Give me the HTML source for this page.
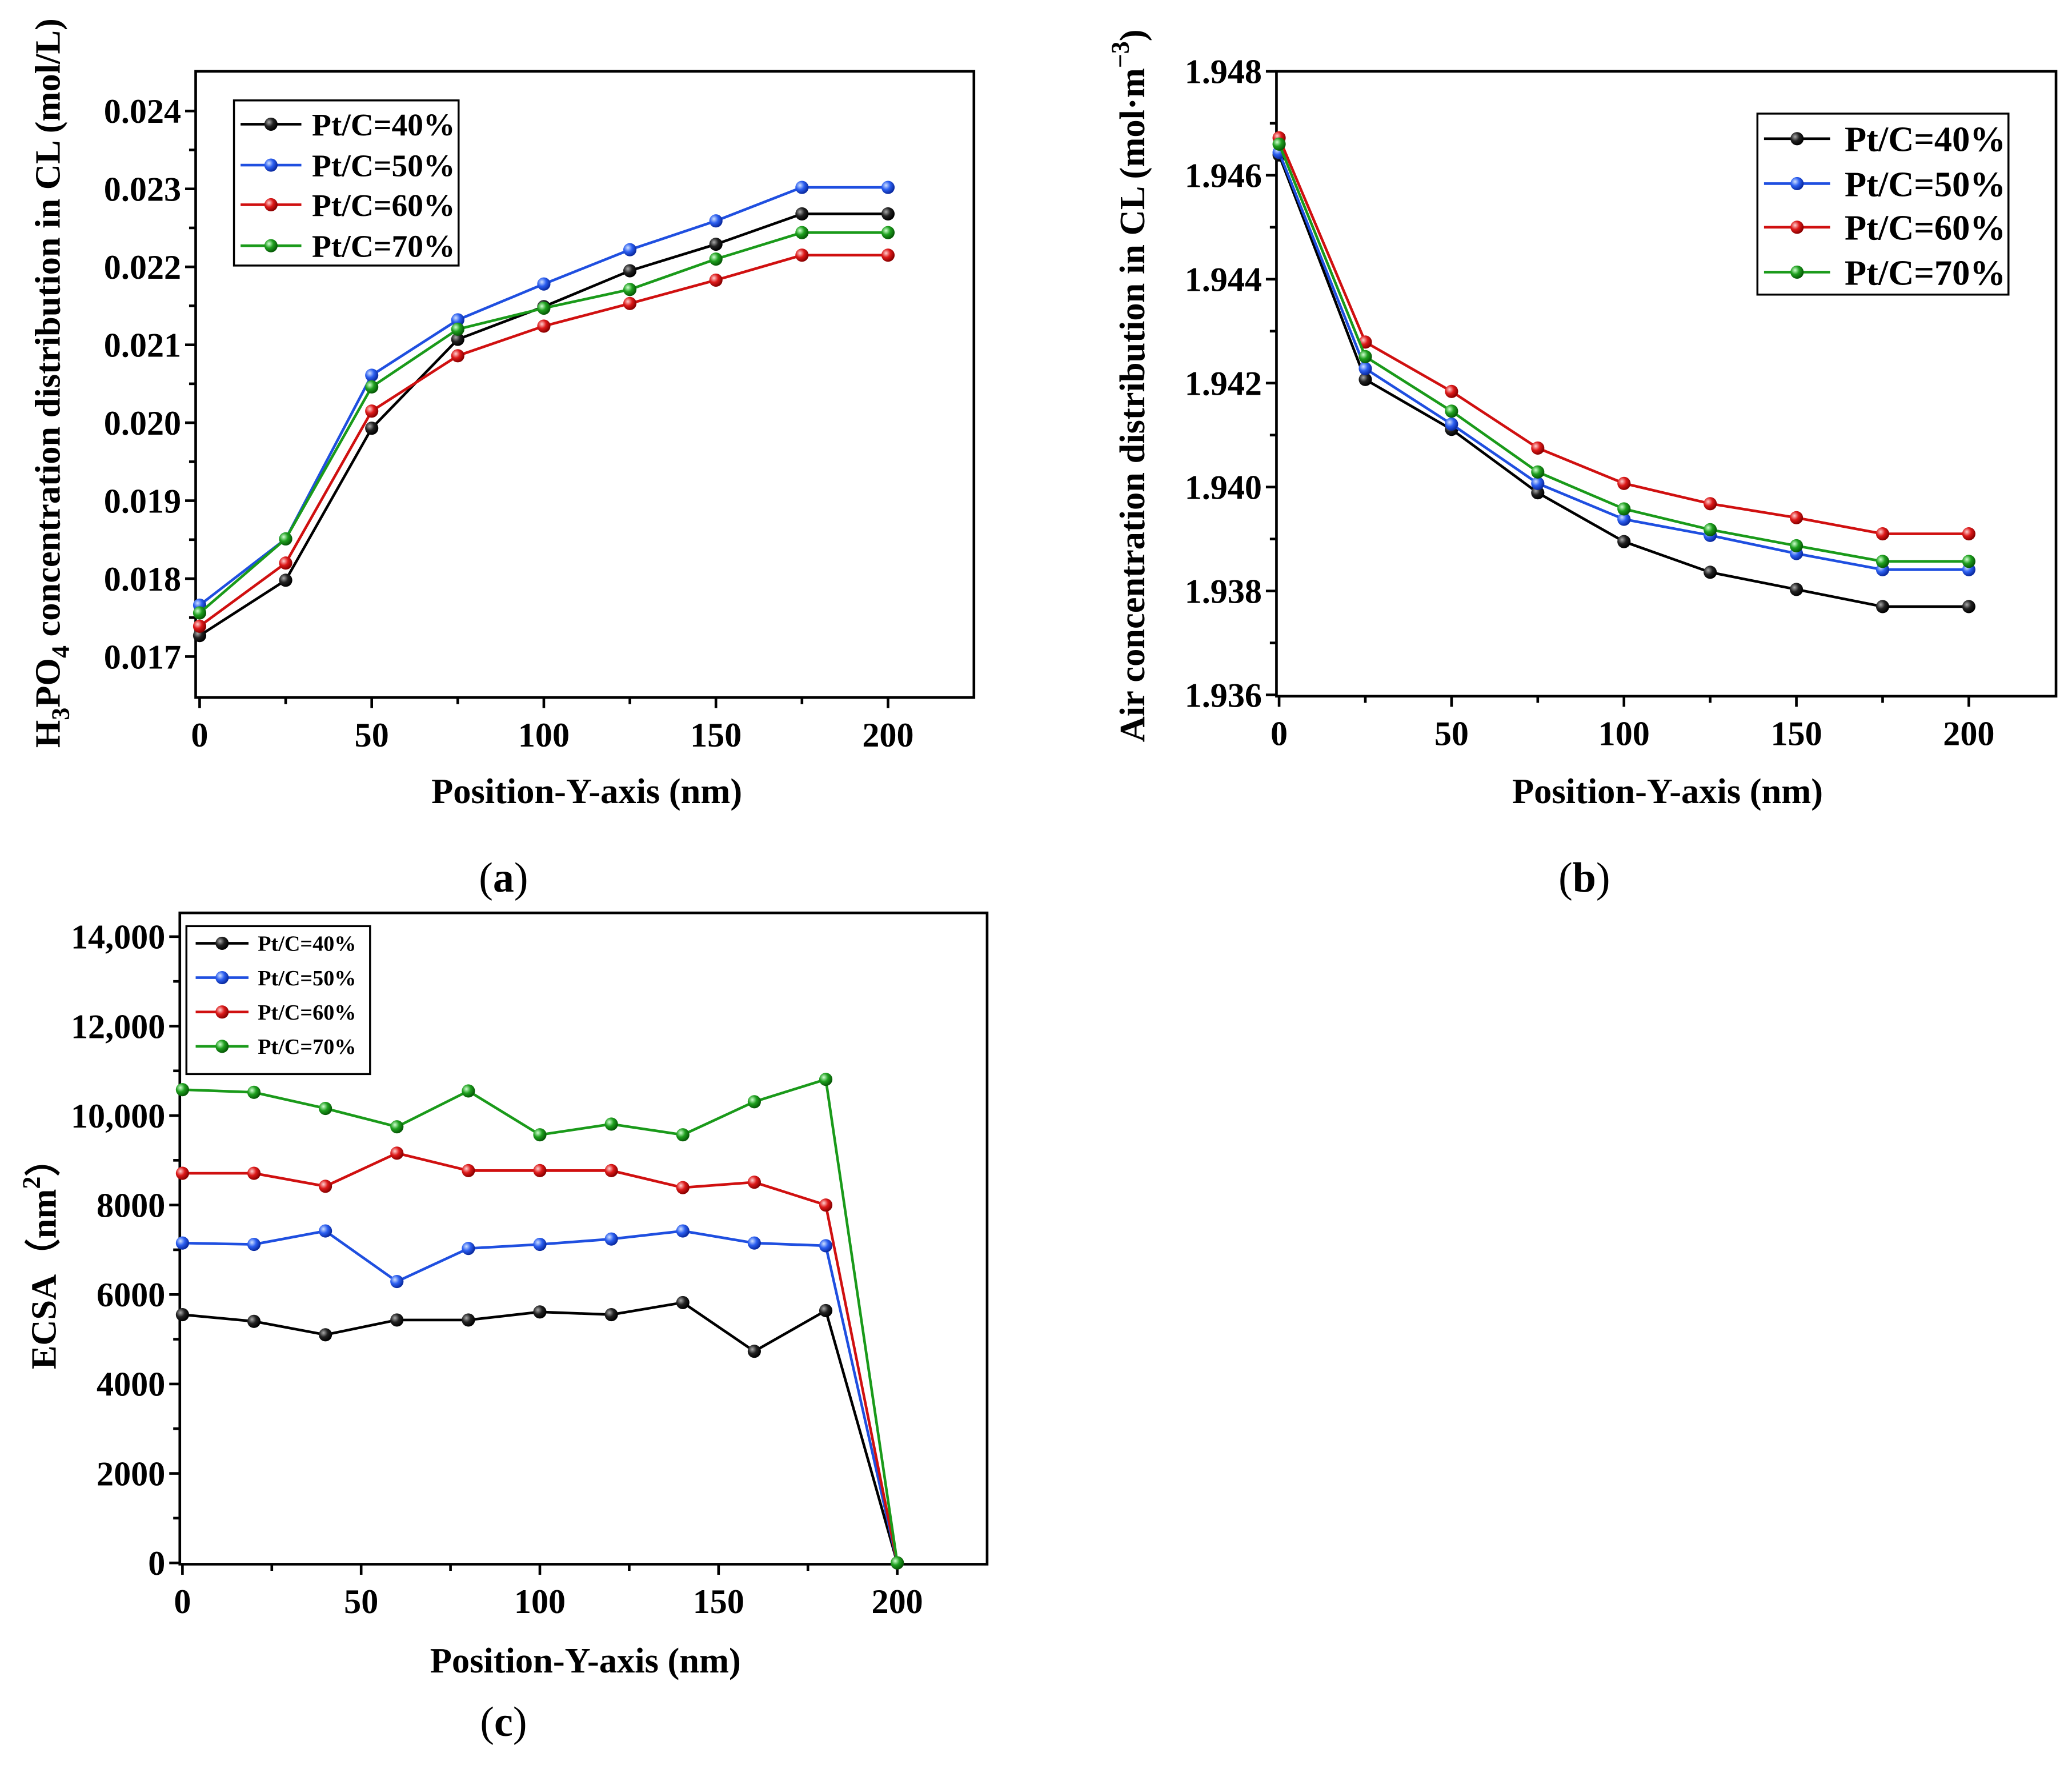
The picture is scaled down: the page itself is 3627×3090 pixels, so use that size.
<!DOCTYPE html>
<html><head><meta charset="utf-8">
<style>
html,body{margin:0;padding:0;background:#fff;}
svg{display:block;font-family:"Liberation Serif",serif;}
</style></head>
<body>
<svg id="fig" width="3627" height="3090" viewBox="0 0 1568 1336" xmlns="http://www.w3.org/2000/svg">
<defs>
<radialGradient id="g-black" cx="35%" cy="35%" r="65%"><stop offset="0" stop-color="#aaa"/><stop offset="0.5" stop-color="#222"/><stop offset="1" stop-color="#000"/></radialGradient>
<radialGradient id="g-blue" cx="35%" cy="35%" r="65%"><stop offset="0" stop-color="#cfe0ff"/><stop offset="0.5" stop-color="#2c5ff0"/><stop offset="1" stop-color="#0a2aa0"/></radialGradient>
<radialGradient id="g-red" cx="35%" cy="35%" r="65%"><stop offset="0" stop-color="#ffd0d0"/><stop offset="0.5" stop-color="#dd1a1a"/><stop offset="1" stop-color="#8a0000"/></radialGradient>
<radialGradient id="g-green" cx="35%" cy="35%" r="65%"><stop offset="0" stop-color="#d0ffd0"/><stop offset="0.5" stop-color="#1fa01f"/><stop offset="1" stop-color="#065a06"/></radialGradient>
</defs>
</svg>
<script>
const seriesNames = ["Pt/C=40%","Pt/C=50%","Pt/C=60%","Pt/C=70%"];
const seriesColors = ["#000000","#1f4fe0","#d01010","#1a9a1a"];
const seriesGrad = ["g-black","g-blue","g-red","g-green"];

const aX = [0,25,50,75,100,125,150,175,200];
const a40 = [0.01727,0.01798,0.01993,0.02107,0.02149,0.02195,0.02229,0.02268,0.02268];
const a50 = [0.01766,0.01851,0.02061,0.02132,0.02178,0.02222,0.02259,0.02302,0.02302];
const a60 = [0.01739,0.01820,0.02015,0.02086,0.02124,0.02153,0.02183,0.02215,0.02215];
const a70 = [0.01756,0.01851,0.02046,0.02120,0.02147,0.02171,0.02210,0.02244,0.02244];
const aXTicks = [0,50,100,150,200];
const aYTicks = [0.017,0.018,0.019,0.020,0.021,0.022,0.023,0.024];

const bX = [0,25,50,75,100,125,150,175,200];
const b40 = [1.94639,1.94207,1.94111,1.93989,1.93895,1.93836,1.93803,1.93770,1.93770];
const b50 = [1.94644,1.94228,1.94121,1.94007,1.93938,1.93907,1.93872,1.93841,1.93841];
const b60 = [1.94672,1.94279,1.94184,1.94075,1.94007,1.93968,1.93941,1.93910,1.93910];
const b70 = [1.94660,1.94251,1.94146,1.94029,1.93958,1.93918,1.93887,1.93857,1.93857];
const bXTicks = [0,50,100,150,200];
const bYTicks = [1.936,1.938,1.940,1.942,1.944,1.946,1.948];

const cX = [0,20,40,60,80,100,120,140,160,180,200];
const c40 = [5550,5400,5100,5430,5430,5610,5550,5820,4730,5640,0];
const c50 = [7150,7120,7420,6290,7030,7120,7240,7420,7150,7090,0];
const c60 = [8710,8710,8420,9160,8770,8770,8770,8390,8510,8000,0];
const c70 = [10580,10520,10160,9750,10550,9570,9810,9570,10310,10810,0];
const cXTicks = [0,50,100,150,200];
const cYTicks = [0,2000,4000,6000,8000,10000,12000,14000];
const cYLabels = ["0","2000","4000","6000","8000","10,000","12,000","14,000"];

const NS="http://www.w3.org/2000/svg";
const svg=document.getElementById('fig');
function mk(tag,attrs,parent,text){const e=document.createElementNS(NS,tag);for(const k in attrs)e.setAttribute(k,attrs[k]);if(text!==undefined)e.textContent=text;(parent||svg).appendChild(e);return e;}

function chart(cfg){
  const g=mk('g',{});
  
  
  const sx=v=>cfg.px0+(v-cfg.x0)*(cfg.px1-cfg.px0)/(cfg.x1-cfg.x0);
  const sy=v=>cfg.py0+(v-cfg.y0)*(cfg.py1-cfg.py0)/(cfg.y1-cfg.y0);
  const b=cfg.box;
  const frame=mk('rect',{x:b[0],y:b[1],width:b[2]-b[0],height:b[3]-b[1],fill:'none',stroke:'#000','stroke-width':2},g);
  
  
  cfg.xt.forEach((t,i)=>{
    const x=sx(t);
    mk('line',{x1:x,y1:b[3],x2:x,y2:b[3]+8,stroke:'#000','stroke-width':2},g);
    if(i<cfg.xt.length-1){const xm=sx(t+(cfg.xt[1]-cfg.xt[0])/2);mk('line',{x1:xm,y1:b[3],x2:xm,y2:b[3]+5,stroke:'#000','stroke-width':2},g);}
    const tl=mk('text',{x:x,y:b[3]+37,'text-anchor':'middle','font-size':26,'font-weight':'bold'},g,String(t));
    
    
  });
  cfg.yt.forEach((t,i)=>{
    const y=sy(t);
    mk('line',{x1:b[0],y1:y,x2:b[0]-8,y2:y,stroke:'#000','stroke-width':2},g);
    if(i<cfg.yt.length-1){const ym=sy(t+(cfg.yt[1]-cfg.yt[0])/2);mk('line',{x1:b[0],y1:ym,x2:b[0]-5,y2:ym,stroke:'#000','stroke-width':2},g);}
    const tl=mk('text',{x:b[0]-11,y:y+9,'text-anchor':'end','font-size':26,'font-weight':'bold'},g,cfg.yl?cfg.yl[i]:cfg.yfmt(t));
    
    
  });
  cfg.series.forEach((ys,si)=>{
    const sg=mk('g',{},g);
    
    
    mk('polyline',{points:cfg.xs.map((x,i)=>sx(x)+','+sy(ys[i])).join(' '),fill:'none',stroke:seriesColors[si],'stroke-width':2},sg);
    cfg.xs.forEach((x,i)=>{
      const c=mk('circle',{cx:sx(x),cy:sy(ys[i]),r:cfg.mr,fill:'url(#'+seriesGrad[si]+')'},sg);
      
      
    });
  });
  const L=cfg.leg;
  const lg=mk('g',{},g);
  
  
  mk('rect',{x:L.x,y:L.y,width:L.w,height:L.h,fill:'#fff',stroke:'#000','stroke-width':1.5},lg);
  seriesNames.forEach((n,i)=>{
    const y=L.ys[i];
    const eg=mk('g',{},lg);
    
    
    mk('line',{x1:L.l0,y1:y,x2:L.l1,y2:y,stroke:seriesColors[i],'stroke-width':2},eg);
    mk('circle',{cx:(L.l0+L.l1)/2,cy:y,r:cfg.mr,fill:'url(#'+seriesGrad[i]+')'},eg);
    mk('text',{x:L.tx,y:y+L.fs*0.35,'font-size':L.fs,'font-weight':'bold'},eg,n);
  });
  return g;
}

chart({name:'chart-a',box:[148,54,737,528],x0:0,x1:200,px0:151,px1:672,y0:0.017,y1:0.024,py0:497,py1:84,
  xt:aXTicks,yt:aYTicks,yfmt:t=>t.toFixed(3),xs:aX,series:[a40,a50,a60,a70],mr:5,
  leg:{x:177,y:76,w:170,h:125,ys:[94,125,155,186],l0:182,l1:228,tx:236,fs:24}});
chart({name:'chart-b',box:[966,54,1556,527],x0:0,x1:200,px0:968,px1:1490,y0:1.936,y1:1.948,py0:526,py1:54,
  xt:bXTicks,yt:bYTicks,yfmt:t=>t.toFixed(3),xs:bX,series:[b40,b50,b60,b70],mr:5,
  leg:{x:1330,y:86,w:190,h:137,ys:[105,139,172,206],l0:1335,l1:1385,tx:1396,fs:27}});
chart({name:'chart-c',box:[136,691,747,1184],x0:0,x1:200,px0:138,px1:679,y0:0,y1:14000,py0:1183,py1:709,
  xt:cXTicks,yt:cYTicks,yl:cYLabels,xs:cX,series:[c40,c50,c60,c70],mr:5,
  leg:{x:141,y:701,w:139,h:112,ys:[714,740,766,792],l0:148,l1:188,tx:195,fs:16.5}});

function label(txt,attrs,name){const t=mk('text',attrs);t.innerHTML=txt;return t;}
label('Position-Y-axis (nm)',{x:444,y:608,'text-anchor':'middle','font-size':27,'font-weight':'bold'},'x-axis-title-a');
label('Position-Y-axis (nm)',{x:1262,y:608,'text-anchor':'middle','font-size':27,'font-weight':'bold'},'x-axis-title-b');
label('Position-Y-axis (nm)',{x:443,y:1266,'text-anchor':'middle','font-size':27,'font-weight':'bold'},'x-axis-title-c');
label('H<tspan dy="7" font-size="19">3</tspan><tspan dy="-7">PO</tspan><tspan dy="7" font-size="19">4</tspan><tspan dy="-7"> concentration distribution in CL (mol/L)</tspan>',{x:0,y:0,transform:'translate(45,290) rotate(-90)','text-anchor':'middle','font-size':27,'font-weight':'bold'},'y-axis-title-a');
label('Air concentration distribution in CL (mol·m<tspan dy="-12" font-size="19">−3</tspan><tspan dy="12">)</tspan>',{x:0,y:0,transform:'translate(866,292) rotate(-90)','text-anchor':'middle','font-size':27,'font-weight':'bold'},'y-axis-title-b');
label('ECSA（nm<tspan dy="-12" font-size="19">2</tspan><tspan dy="12">）</tspan>',{x:0,y:0,transform:'translate(42,950) rotate(-90)','text-anchor':'middle','font-size':27,'font-weight':'bold'},'y-axis-title-c');
label('(<tspan font-weight="bold">a</tspan>)',{x:381,y:675,'text-anchor':'middle','font-size':32},'panel-label-a');
label('(<tspan font-weight="bold">b</tspan>)',{x:1199,y:675,'text-anchor':'middle','font-size':32},'panel-label-b');
label('(<tspan font-weight="bold">c</tspan>)',{x:381,y:1314,'text-anchor':'middle','font-size':32},'panel-label-c');
</script>
</body></html>
